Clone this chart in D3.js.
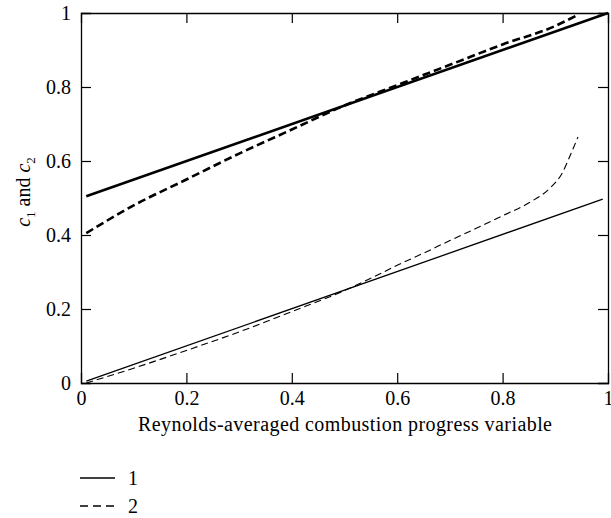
<!DOCTYPE html>
<html>
<head>
<meta charset="utf-8">
<script src="https://cdn.jsdelivr.net/npm/d3@7"></script>
<style>
  body { margin: 0; background: #fff; }
  svg { font-family: "Liberation Serif", "DejaVu Serif", serif; }
</style>
</head>
<body>
<div class="graph"></div>
<script>
var xTicks = [0, 0.2, 0.4, 0.6, 0.8, 1];
var yTicks = [0, 0.2, 0.4, 0.6, 0.8, 1];

// heavy curves
var c1X = [0.01, 1.0];
var c1Y = [0.505, 1.0];
var c2X = [0.01, 0.1, 0.2, 0.3, 0.4, 0.5, 0.6, 0.7, 0.8, 0.9, 0.94];
var c2Y = [0.405, 0.48, 0.55, 0.62, 0.685, 0.75, 0.805, 0.86, 0.915, 0.965, 0.993];

// thin curves
var t1X = [0.01, 0.99];
var t1Y = [0.005, 0.497];
var t2X = [0.01, 0.1, 0.2, 0.3, 0.4, 0.5, 0.55, 0.6, 0.65, 0.7, 0.75, 0.8, 0.85, 0.89, 0.913, 0.928, 0.943];
var t2Y = [0.0, 0.04, 0.088, 0.138, 0.193, 0.25, 0.283, 0.318, 0.351, 0.385, 0.418, 0.452, 0.487, 0.527, 0.567, 0.614, 0.665];

var legendLabels = ["1", "2"];

var width = 611, height = 518;
var margin = {top: 13, right: 3, bottom: 135, left: 81};
var w = width - margin.left - margin.right,
    h = height - margin.top - margin.bottom;

var svg = d3.select(".graph").append("svg")
    .attr("width", width)
    .attr("height", height);

var g = svg.append("g")
    .attr("transform", "translate(" + margin.left + "," + margin.top + ")");

var xScale = d3.scaleLinear().domain([0, 1]).range([0, w]);
var yScale = d3.scaleLinear().domain([0, 1]).range([h, 0]);

var fmt = function(d) { return d === 0 ? "0" : d === 1 ? "1" : d3.format(".1f")(d); };

// axes with inward ticks
g.append("g")
    .attr("transform", "translate(0," + h + ")")
    .call(d3.axisBottom(xScale).tickValues(xTicks).tickSize(-10).tickPadding(8).tickFormat(fmt));
g.append("g")
    .call(d3.axisLeft(yScale).tickValues(yTicks).tickSize(-10).tickPadding(10).tickFormat(fmt));
g.append("g")
    .call(d3.axisTop(xScale).tickValues(xTicks).tickSize(-10).tickFormat(""));
g.append("g")
    .attr("transform", "translate(" + w + ",0)")
    .call(d3.axisRight(yScale).tickValues(yTicks).tickSize(-10).tickFormat(""));

g.selectAll(".domain").attr("stroke", "#000").attr("stroke-width", 1.3);
g.selectAll(".tick line").attr("stroke", "#000").attr("stroke-width", 1.2);
g.selectAll(".tick text")
    .attr("fill", "#000")
    .style("font-family", "'Liberation Serif', serif")
    .style("font-size", "20px");

// end ticks sit on the frame
g.selectAll(".tick").filter(function(d) { return d === 0 || d === 1; }).select("line").remove();

var line = d3.line()
    .curve(d3.curveMonotoneX)
    .x(function(d) { return xScale(d[0]); })
    .y(function(d) { return yScale(d[1]); });

function pairs(xs, ys) { return xs.map(function(x, i) { return [x, ys[i]]; }); }

g.append("path").attr("d", line(pairs(c1X, c1Y)))
    .attr("fill", "none").attr("stroke", "#000").attr("stroke-width", 2.6);
g.append("path").attr("d", line(pairs(c2X, c2Y)))
    .attr("fill", "none").attr("stroke", "#000").attr("stroke-width", 2.6)
    .attr("stroke-dasharray", "8,4");
g.append("path").attr("d", line(pairs(t1X, t1Y)))
    .attr("fill", "none").attr("stroke", "#000").attr("stroke-width", 1.3);
g.append("path").attr("d", line(pairs(t2X, t2Y)))
    .attr("fill", "none").attr("stroke", "#000").attr("stroke-width", 1.1)
    .attr("stroke-dasharray", "7,4");

// axis labels
svg.append("text")
    .attr("x", 345)
    .attr("y", 431)
    .attr("text-anchor", "middle")
    .attr("textLength", 414)
    .attr("lengthAdjust", "spacing")
    .style("font-size", "20px")
    .text("Reynolds-averaged combustion progress variable");

var yl = svg.append("text")
    .attr("text-anchor", "middle")
    .attr("transform", "translate(30,192)rotate(-90)")
    .style("font-size", "20px");
yl.append("tspan").style("font-style", "italic").text("c");
yl.append("tspan").attr("dy", 5).style("font-size", "13px").text("1");
yl.append("tspan").attr("dy", -5).text(" and ");
yl.append("tspan").style("font-style", "italic").text("c");
yl.append("tspan").attr("dy", 5).style("font-size", "13px").text("2");

// legend
var legend = svg.append("g").selectAll("g")
    .data(legendLabels)
    .enter().append("g")
    .attr("transform", function(d, i) { return "translate(80," + (478 + i * 28) + ")"; });
legend.append("line")
    .attr("x1", 0).attr("x2", 35)
    .attr("stroke", "#000").attr("stroke-width", 1.3)
    .attr("stroke-dasharray", function(d, i) { return i === 1 ? "8,5" : null; });
legend.append("text")
    .attr("x", 48).attr("dy", "0.35em")
    .style("font-size", "20px")
    .text(function(d) { return d; });
</script>
</body>
</html>
